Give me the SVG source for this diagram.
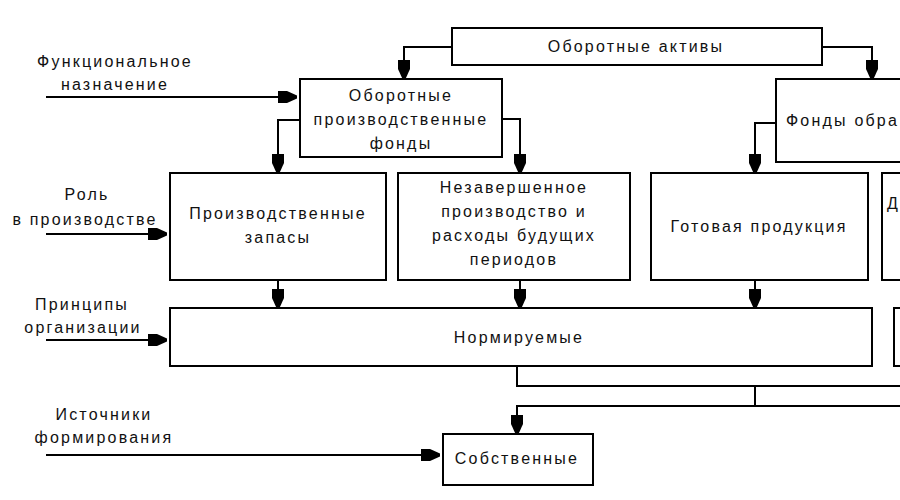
<svg xmlns="http://www.w3.org/2000/svg" width="900" height="500" viewBox="0 0 900 500">
<style>
.box{fill:#fff;stroke:#000;stroke-width:2}
.t{font-family:"Liberation Sans",Arial,sans-serif;font-size:16px;letter-spacing:2.2px;fill:#111;text-anchor:middle}
.tl{font-family:"Liberation Sans",Arial,sans-serif;font-size:16px;letter-spacing:2.2px;fill:#111}
.c{fill:none;stroke:#000;stroke-width:2}
</style>
<defs>
<marker id="ar" markerUnits="userSpaceOnUse" markerWidth="22" markerHeight="14" viewBox="-20 -7 22 14" refX="0" refY="0" orient="auto">
<polygon points="-19,-6 -10,-6 0,-1.5 0,1.5 -10,6 -19,6" fill="#000"/>
</marker>
</defs>
<rect width="900" height="500" fill="#fff"/>
<g id="connectors">
<path class="c" d="M452,47 H404 V79" marker-end="url(#ar)"/>
<path class="c" d="M822,47 H872 V79" marker-end="url(#ar)"/>
<path class="c" d="M300,120 H278 V173" marker-end="url(#ar)"/>
<path class="c" d="M502,119 H520 V173" marker-end="url(#ar)"/>
<path class="c" d="M776,123 H755 V173" marker-end="url(#ar)"/>
<path class="c" d="M278,280 V308" marker-end="url(#ar)"/>
<path class="c" d="M520,280 V308" marker-end="url(#ar)"/>
<path class="c" d="M755,280 V308" marker-end="url(#ar)"/>
<path class="c" d="M46,97 H297" marker-end="url(#ar)"/>
<path class="c" d="M46,234 H167" marker-end="url(#ar)"/>
<path class="c" d="M46,340 H167" marker-end="url(#ar)"/>
<path class="c" d="M46,455 H440" marker-end="url(#ar)"/>
<path class="c" d="M517,366 V386 H900"/>
<path class="c" d="M755,386 V406"/>
<path class="c" d="M900,406 H517 V434" marker-end="url(#ar)"/>
</g>
<g id="labels">
<text class="t" x="115" y="67">Функциональное</text>
<text class="t" x="115" y="90">назначение</text>
<text class="t" x="87" y="200">Роль</text>
<text class="t" x="85" y="225">в производстве</text>
<text class="t" x="82" y="310">Принципы</text>
<text class="t" x="83" y="333">организации</text>
<text class="t" x="104" y="420">Источники</text>
<text class="t" x="104" y="443">формирования</text>
</g>
<g id="n-oa"><rect class="box" x="452" y="28" width="370" height="37"/><text class="t" x="636" y="52">Оборотные активы</text></g>
<g id="n-opf"><rect class="box" x="300" y="79" width="202" height="78"/>
<text class="t" x="401" y="101">Оборотные</text><text class="t" x="401" y="125">производственные</text><text class="t" x="401" y="149">фонды</text></g>
<g id="n-fo"><rect class="box" x="776" y="79" width="140" height="83"/><text class="tl" x="786" y="126">Фонды обра</text></g>
<g id="n-pz"><rect class="box" x="170" y="173" width="216" height="107"/>
<text class="t" x="278" y="219">Производственные</text><text class="t" x="278" y="243">запасы</text></g>
<g id="n-np"><rect class="box" x="398" y="173" width="232" height="107"/>
<text class="t" x="514" y="193">Незавершенное</text><text class="t" x="514" y="217">производство и</text><text class="t" x="514" y="241">расходы будущих</text><text class="t" x="514" y="265">периодов</text></g>
<g id="n-gp"><rect class="box" x="651" y="173" width="217" height="107"/><text class="t" x="759" y="232">Готовая продукция</text></g>
<g id="n-d"><rect class="box" x="882" y="173" width="40" height="107"/><text class="tl" x="887" y="209">Д</text></g>
<g id="n-norm"><rect class="box" x="170" y="308" width="702" height="58"/><text class="t" x="519" y="343">Нормируемые</text></g>
<g id="n-nenorm"><rect class="box" x="894" y="308" width="30" height="58"/></g>
<g id="n-sob"><rect class="box" x="443" y="434" width="150" height="51"/><text class="t" x="517" y="464">Собственные</text></g>
</svg>
